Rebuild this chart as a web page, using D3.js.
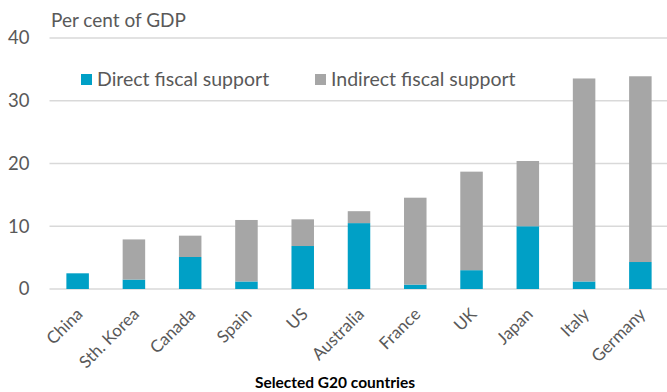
<!DOCTYPE html>
<html>
<head>
<meta charset="utf-8">
<script src="https://cdn.jsdelivr.net/npm/d3@7"></script>
<style>
  body { margin: 0; background: #fff; }
  svg { display: block; font-family: Lato, "Open Sans", sans-serif; }
</style>
</head>
<body>
<svg width="667" height="392"></svg>
<script>
// values, per cent of GDP
const countries = ['China', 'Sth. Korea', 'Canada', 'Spain', 'US', 'Australia', 'France', 'UK', 'Japan', 'Italy', 'Germany'];
const direct = [2.5, 1.5, 5.1, 1.2, 6.85, 10.5, 0.7, 3.0, 10.0, 1.2, 4.3];
const indirect = [0, 6.4, 3.4, 9.8, 4.25, 1.9, 13.85, 15.7, 10.4, 32.35, 29.6];
const yTicks = [0, 10, 20, 30, 40];
const seriesNames = ['Direct fiscal support', 'Indirect fiscal support'];
const colours = ['#00A0C6', '#A6A6A6'];

function makeChart() {
  const svg = d3.select('svg');
  const w = 667, h = 392;
  const margin = {top: 38, left: 49.5, right: -1.5, bottom: 103};

  const rows = countries.map((c, i) => ({country: c, direct: direct[i], indirect: indirect[i]}));
  const stack = d3.stack().keys(['direct', 'indirect'])(rows);

  const x = d3.scaleBand()
    .domain(countries)
    .range([margin.left, w - margin.right])
    .paddingInner(0.6)
    .paddingOuter(0.3);
  const y = d3.scaleLinear()
    .domain([0, 40])
    .range([h - margin.bottom, margin.top]);

  // gridlines
  svg.append('g').selectAll('line')
    .data(yTicks)
    .enter().append('line')
    .attr('x1', margin.left)
    .attr('x2', w)
    .attr('y1', d => y(d))
    .attr('y2', d => y(d))
    .attr('stroke', '#D9D9D9')
    .attr('stroke-width', 1.5);

  // y tick labels
  svg.append('g').selectAll('text')
    .data(yTicks)
    .enter().append('text')
    .attr('x', 29.5)
    .attr('y', d => y(d))
    .attr('dy', '0.35em')
    .attr('text-anchor', 'end')
    .attr('fill', '#595959')
    .attr('font-size', 18.5)
    .text(d => d);

  // bars
  svg.append('g').selectAll('g')
    .data(stack)
    .enter().append('g')
    .attr('fill', (d, i) => colours[i])
    .selectAll('rect')
    .data(d => d)
    .enter().append('rect')
    .attr('x', d => x(d.data.country))
    .attr('width', x.bandwidth())
    .attr('y', d => y(d[1]))
    .attr('height', d => y(d[0]) - y(d[1]));

  // x labels, rotated
  svg.append('g').selectAll('text')
    .data(countries)
    .enter().append('text')
    .attr('transform', d => 'translate(' + (x(d) + x.bandwidth() / 2 + 2) + ',' + (y(0) + 22) + ') rotate(-45)')
    .attr('text-anchor', 'end')
    .attr('dy', '0.35em')
    .attr('fill', '#595959')
    .attr('font-size', 17)
    .text(d => d);

  // axis titles
  svg.append('text')
    .attr('x', 51)
    .attr('y', 27)
    .attr('fill', '#595959')
    .attr('font-size', 19)
    .text('Per cent of GDP');

  svg.append('text')
    .attr('x', 335)
    .attr('y', 388)
    .attr('text-anchor', 'middle')
    .attr('font-weight', 'bold')
    .attr('fill', '#000')
    .attr('font-size', 15.5)
    .text('Selected G20 countries');

  // legend
  const legendX = [81, 315];
  const legend = svg.append('g');
  seriesNames.forEach((name, i) => {
    legend.append('rect')
      .attr('x', legendX[i])
      .attr('y', 74)
      .attr('width', 11)
      .attr('height', 11)
      .attr('fill', colours[i]);
    legend.append('text')
      .attr('x', legendX[i] + 16)
      .attr('y', 79.5)
      .attr('dy', '0.35em')
      .attr('fill', '#595959')
      .attr('font-size', 19.5)
      .text(name);
  });
}

makeChart();
</script>
</body>
</html>
